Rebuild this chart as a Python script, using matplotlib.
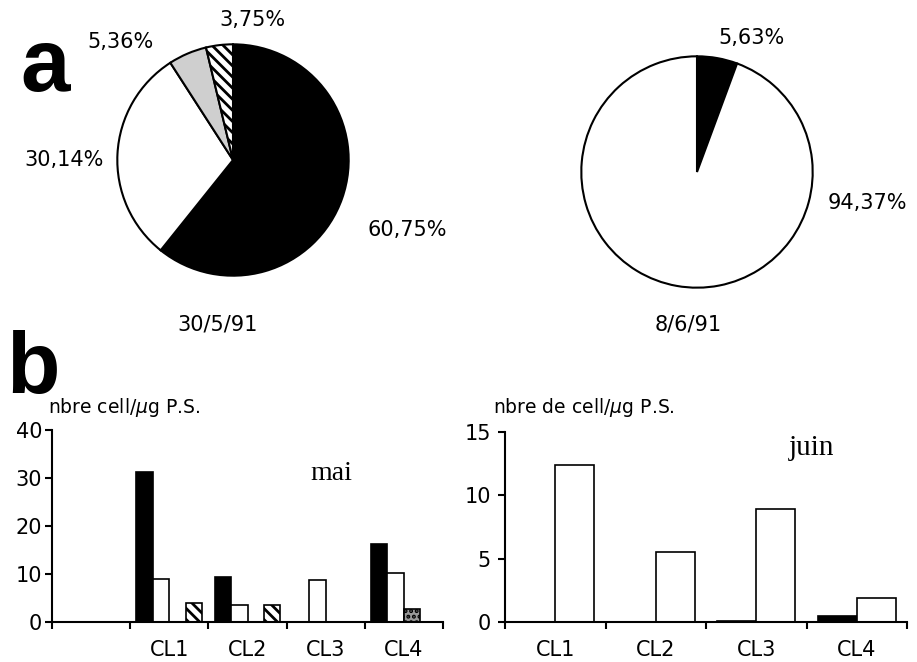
import numpy as np
import matplotlib
matplotlib.use("Agg")
import matplotlib.pyplot as plt

plt.rcParams['font.family'] = ['DejaVu Sans']
plt.rcParams['hatch.linewidth'] = 2.0

# pie data (30/5/91 and 8/6/91)
pie1_values = [60.75, 30.14, 5.36, 3.75]
pie1_labels = ['60,75%', '30,14%', '5,36%', '3,75%']
pie2_values = [5.63, 94.37]
pie2_labels = ['5,63%', '94,37%']

# bar data
categories = ['CL1', 'CL2', 'CL3', 'CL4']
mai_black = [31.2, 9.3, 0, 16.3]
mai_white = [9.0, 3.6, 8.8, 10.3]
mai_stipple = [0, 0, 0, 2.7]
mai_hatch = [4.0, 3.5, 0, 0]
juin_black = [0, 0, 0.1, 0.45]
juin_white = [12.4, 5.5, 8.95, 1.9]

W, H = 917, 662
fig = plt.figure(figsize=(9.17, 6.62), dpi=100)

def px(x, y):
    return x / W, 1 - y / H

def pie_axes(cx, cy, r):
    return fig.add_axes([(cx - r) / W, 1 - (cy + r) / H, 2 * r / W, 2 * r / H])

# --- pies
ax1 = pie_axes(233, 160, 118)
w1, _ = ax1.pie(pie1_values, startangle=90, counterclock=False,
                colors=['black', 'white', '#cfcfcf', 'white'],
                wedgeprops=dict(edgecolor='black', linewidth=1.5))
w1[3].set_hatch('\\\\\\')
ax1.set_xlim(-1.02, 1.02)
ax1.set_ylim(-1.02, 1.02)

ax2 = pie_axes(697, 172, 118)
ax2.pie(pie2_values, startangle=90, counterclock=False,
        colors=['black', 'white'],
        wedgeprops=dict(edgecolor='black', linewidth=1.5))
ax2.set_xlim(-1.02, 1.02)
ax2.set_ylim(-1.02, 1.02)

lab_pos1 = [(407, 230), (64, 160), (120, 42), (252, 20)]
for lab, (x, y) in zip(pie1_labels, lab_pos1):
    fig.text(*px(x, y), lab, fontsize=15, ha='center', va='center')
lab_pos2 = [(751, 38), (867, 203)]
for lab, (x, y) in zip(pie2_labels, lab_pos2):
    fig.text(*px(x, y), lab, fontsize=15, ha='center', va='center')
fig.text(*px(218, 325), '30/5/91', fontsize=15, ha='center', va='center')
fig.text(*px(688, 325), '8/6/91', fontsize=15, ha='center', va='center')

fig.text(*px(45, 68), 'a', fontsize=64, fontweight='bold',
         family='Liberation Sans', ha='center', va='center')
fig.text(*px(33, 370), 'b', fontsize=63, fontweight='bold',
         family='Liberation Sans', ha='center', va='center')

# --- bar charts
def style_axes(ax):
    for s in ['top', 'right']:
        ax.spines[s].set_visible(False)
    for s in ['left', 'bottom']:
        ax.spines[s].set_linewidth(1.5)
    ax.tick_params(axis='y', which='major', direction='out', length=5,
                   width=1.5, labelsize=15, pad=2)
    ax.tick_params(axis='x', which='major', direction='out', length=5,
                   width=1.5, labelbottom=False)
    ax.tick_params(axis='x', which='minor', length=0, labelsize=15, pad=13)

axl = fig.add_axes([52 / W, 1 - 622 / H, 391 / W, 192 / H])
x = np.arange(len(categories)) + 1.5
bw = 0.21
kw = dict(edgecolor='black', linewidth=1.2)
axl.bar(x - 1.5 * bw, mai_black, bw, color='black', **kw)
axl.bar(x - 0.5 * bw, mai_white, bw, color='white', **kw)
axl.bar(x + 0.5 * bw, mai_stipple, bw, color='#9a9a9a', hatch='...', **kw)
axl.bar(x + 1.5 * bw, mai_hatch, bw, color='white', hatch='\\\\\\', **kw)
axl.set_xlim(0, 5)
axl.set_ylim(0, 40)
axl.set_yticks([0, 10, 20, 30, 40])
axl.set_xticks(np.arange(6))
axl.set_xticks(x, categories, minor=True)
style_axes(axl)
axl.text(-0.01, 1.115, r'nbre cell/$\mu$g P.S.', transform=axl.transAxes,
         fontsize=13.5, ha='left', va='center')
axl.text(3.57, 31, 'mai', family='Liberation Serif', fontsize=20,
         ha='center', va='center')

axr = fig.add_axes([505 / W, 1 - 622 / H, 402 / W, 190 / H])
x2 = np.arange(len(categories)) + 0.5
bw2 = 0.39
axr.bar(x2 - 0.5 * bw2, juin_black, bw2, color='black', **kw)
axr.bar(x2 + 0.5 * bw2, juin_white, bw2, color='white', **kw)
axr.set_xlim(0, 4)
axr.set_ylim(0, 15)
axr.set_yticks([0, 5, 10, 15])
axr.set_xticks(np.arange(5))
axr.set_xticks(x2, categories, minor=True)
style_axes(axr)
axr.tick_params(axis='y', pad=5)
axr.text(-0.03, 1.13, r'nbre de cell/$\mu$g P.S.', transform=axr.transAxes,
         fontsize=13.5, ha='left', va='center')
axr.text(3.05, 13.7, 'juin', family='Liberation Serif', fontsize=21,
         ha='center', va='center')

fig.savefig('out.png', dpi=100)
